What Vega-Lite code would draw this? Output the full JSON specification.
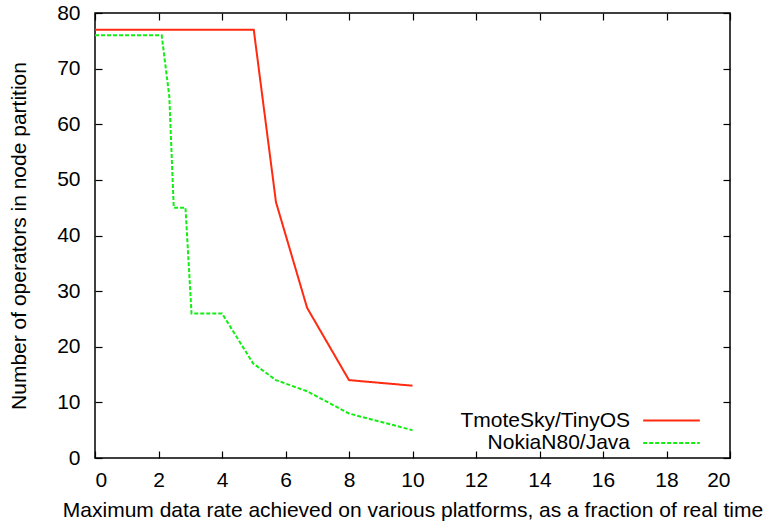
{
  "$schema": "https://vega.github.io/schema/vega-lite/v6.json",
  "width": 635,
  "height": 445,
  "autosize": {"type": "none"},
  "padding": {"left": 95, "top": 13, "right": 34, "bottom": 69},
  "background": "white",
  "config": {
    "font": "Liberation Sans",
    "view": {"stroke": "black", "strokeWidth": 1.5},
    "axis": {
      "domain": false,
      "grid": false,
      "tickColor": "black",
      "tickSize": -7,
      "tickWidth": 1.2,
      "labelColor": "black",
      "titleColor": "black",
      "labelFont": "Liberation Sans",
      "titleFont": "Liberation Sans",
      "labelFontSize": 21,
      "titleFontSize": 21,
      "titleFontWeight": "normal"
    }
  },
  "data": {
    "values": [
      {"series": "TmoteSky/TinyOS", "rate": 0, "ops": 77},
      {"series": "TmoteSky/TinyOS", "rate": 5, "ops": 77},
      {"series": "TmoteSky/TinyOS", "rate": 5.7, "ops": 46},
      {"series": "TmoteSky/TinyOS", "rate": 6.68, "ops": 27},
      {"series": "TmoteSky/TinyOS", "rate": 8, "ops": 14},
      {"series": "TmoteSky/TinyOS", "rate": 10, "ops": 13},
      {"series": "NokiaN80/Java", "rate": 0, "ops": 76},
      {"series": "NokiaN80/Java", "rate": 2.1, "ops": 76},
      {"series": "NokiaN80/Java", "rate": 2.34, "ops": 65},
      {"series": "NokiaN80/Java", "rate": 2.48, "ops": 45},
      {"series": "NokiaN80/Java", "rate": 2.85, "ops": 45},
      {"series": "NokiaN80/Java", "rate": 3.04, "ops": 26},
      {"series": "NokiaN80/Java", "rate": 4, "ops": 26},
      {"series": "NokiaN80/Java", "rate": 4.98, "ops": 17},
      {"series": "NokiaN80/Java", "rate": 5.7, "ops": 14},
      {"series": "NokiaN80/Java", "rate": 6.68, "ops": 12},
      {"series": "NokiaN80/Java", "rate": 8, "ops": 8},
      {"series": "NokiaN80/Java", "rate": 10, "ops": 5}
    ]
  },
  "layer": [
    {
      "mark": {"type": "line", "strokeWidth": 2, "clip": true},
      "encoding": {
        "x": {
          "field": "rate", "type": "quantitative",
          "scale": {"domain": [0, 20], "nice": false, "zero": false},
          "axis": {
            "orient": "bottom",
            "values": [0, 2, 4, 6, 8, 10, 12, 14, 16, 18, 20],
            "labelFontSize": 21,
            "labelPadding": 18,
            "labelBaseline": "top",
            "title": "Maximum data rate achieved on various platforms, as a fraction of real time",
            "titlePadding": 9
          }
        },
        "y": {
          "field": "ops", "type": "quantitative",
          "scale": {"domain": [0, 80], "nice": false, "zero": false},
          "axis": {
            "orient": "left",
            "values": [0, 10, 20, 30, 40, 50, 60, 70, 80],
            "labelFontSize": 21,
            "labelPadding": 22,
            "title": "Number of operators in node partition",
            "titlePadding": 27
          }
        },
        "order": {"field": "rate", "type": "quantitative"},
        "color": {
          "field": "series", "type": "nominal",
          "scale": {"domain": ["TmoteSky/TinyOS", "NokiaN80/Java"], "range": ["#ff2a10", "#12ee12"]},
          "legend": {
            "title": null,
            "orient": "none",
            "legendX": 565,
            "legendY": 396,
            "padding": 0,
            "symbolType": "M-2.7,0H2.7",
            "symbolSize": 441,
            "symbolStrokeWidth": 2,
            "symbolFillColor": "transparent",
            "labelAlign": "right",
            "labelOffset": -53,
            "labelFontSize": 21,
            "labelFont": "Liberation Sans",
            "labelColor": "black",
            "rowPadding": 0.5,
            "labelLimit": 400
          }
        },
        "strokeDash": {
          "field": "series", "type": "nominal",
          "scale": {"domain": ["TmoteSky/TinyOS", "NokiaN80/Java"], "range": [[1, 0], [4, 2]]},
          "legend": null
        }
      }
    },
    {
      "mark": {"type": "line", "opacity": 0},
      "encoding": {
        "x": {
          "field": "rate", "type": "quantitative",
          "axis": {"orient": "top", "values": [0, 2, 4, 6, 8, 10, 12, 14, 16, 18, 20], "labels": false, "title": null}
        },
        "y": {
          "field": "ops", "type": "quantitative",
          "axis": {"orient": "right", "values": [0, 10, 20, 30, 40, 50, 60, 70, 80], "labels": false, "title": null}
        },
        "detail": {"field": "series", "type": "nominal"}
      }
    }
  ],
  "resolve": {"axis": {"x": "independent", "y": "independent"}}
}
